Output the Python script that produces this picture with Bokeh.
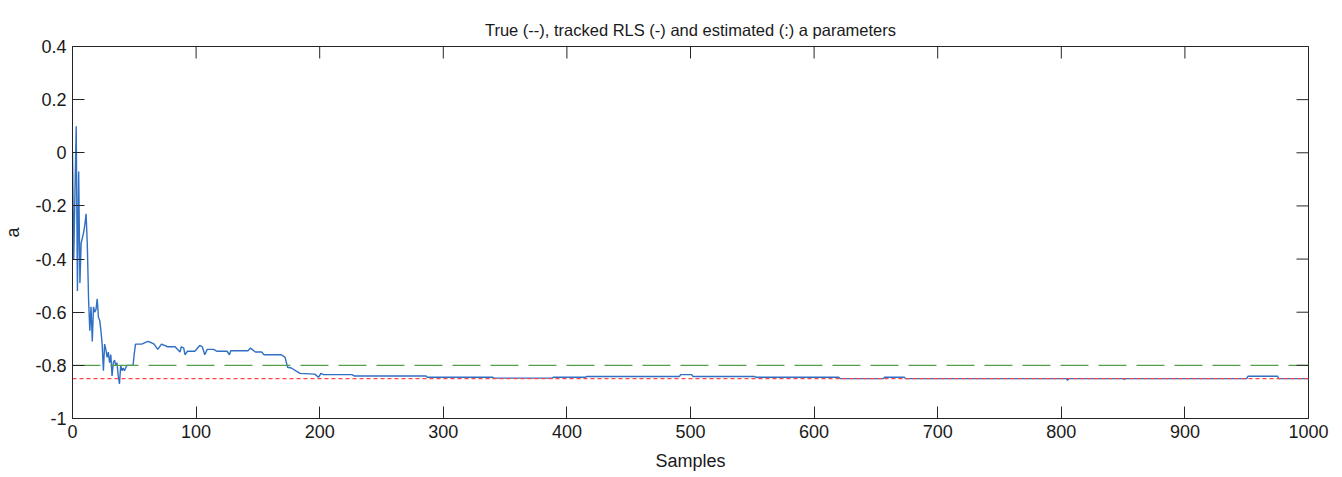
import math
from bokeh.plotting import figure
from bokeh.models import Range1d, FixedTicker, CustomJSTickFormatter
from bokeh.embed import file_html
from bokeh.resources import INLINE

# ---- data ----
samples = [0, 1, 2, 3, 4, 5, 6, 7, 8, 9, 10, 11, 12, 13, 14, 15, 16, 17, 18, 19,
           20, 21, 22, 23, 24, 25, 26, 27, 28, 29, 30, 31, 32, 33, 34, 35, 36, 37,
           38, 39, 40, 41, 42, 43, 44, 45, 46, 47, 48, 49, 50, 51, 52, 56, 61, 64,
           66, 69, 72, 77, 83, 87, 88, 90, 91, 93, 99, 103, 105, 107, 109, 114,
           117, 125, 127, 128, 142, 144, 148, 153, 155, 169, 172, 174, 177, 184,
           196, 199, 201, 203, 226, 228, 286, 287, 340, 341, 388, 389, 415, 416,
           491, 492, 501, 502, 552, 553, 620, 621, 656, 657, 673, 674, 804, 805,
           806, 850, 851, 852, 950, 951, 975, 976, 1000]
tracked_rls = [0.00, -0.40, -0.15, 0.10, -0.52, -0.07, -0.49, -0.34, -0.32, -0.30,
               -0.27, -0.23, -0.35, -0.55, -0.67, -0.58, -0.71, -0.58, -0.60, -0.59,
               -0.55, -0.62, -0.63, -0.67, -0.72, -0.82, -0.72, -0.74, -0.77, -0.75,
               -0.79, -0.76, -0.84, -0.79, -0.78, -0.80, -0.79, -0.84, -0.87, -0.80,
               -0.82, -0.81, -0.82, -0.81, -0.80, -0.80, -0.80, -0.80, -0.80, -0.80,
               -0.755, -0.72, -0.72, -0.72, -0.71, -0.715, -0.72, -0.74, -0.72, -0.73,
               -0.73, -0.75, -0.73, -0.735, -0.76, -0.747, -0.747, -0.725, -0.73,
               -0.76, -0.74, -0.74, -0.747, -0.747, -0.76, -0.745, -0.745, -0.735,
               -0.75, -0.75, -0.76, -0.76, -0.77, -0.807, -0.81, -0.83, -0.833,
               -0.845, -0.83, -0.835, -0.835, -0.84, -0.84, -0.845, -0.845, -0.848,
               -0.848, -0.845, -0.845, -0.842, -0.842, -0.835, -0.835, -0.842, -0.842,
               -0.845, -0.845, -0.85, -0.85, -0.845, -0.845, -0.85, -0.85, -0.856,
               -0.85, -0.85, -0.853, -0.85, -0.85, -0.841, -0.841, -0.85, -0.85]
true_x = [0, 1000]
true_a = [-0.8, -0.8]
est_x = [0, 1000]
est_a = [-0.85, -0.85]
x_ticks = [0, 100, 200, 300, 400, 500, 600, 700, 800, 900, 1000]
y_ticks = [-1.0, -0.8, -0.6, -0.4, -0.2, 0.0, 0.2, 0.4]

FONT = "Liberation Sans"
X_MIN, X_MAX = x_ticks[0], x_ticks[-1]
Y_MIN, Y_MAX = y_ticks[0], y_ticks[-1]

p = figure(width=1342, height=477, output_backend="svg", toolbar_location=None,
           x_range=Range1d(X_MIN, X_MAX), y_range=Range1d(Y_MIN, Y_MAX),
           title="True (--), tracked RLS (-) and estimated (:) a parameters",
           min_border_left=71, min_border_right=34, min_border_top=46,
           min_border_bottom=59)

p.background_fill_color = "white"
p.border_fill_color = "white"
p.outline_line_color = "#262626"
p.outline_line_width = 1
p.grid.visible = False

p.title.align = "center"
p.title.text_font = FONT
p.title.text_font_size = "16.5px"
p.title.text_font_style = "normal"
p.title.text_color = "#1a1a1a"
p.title.standoff = 16

fmt = CustomJSTickFormatter(code="return (Math.round(tick*10)/10).toString();")

for ax in p.xaxis:
    ax.ticker = FixedTicker(ticks=x_ticks)
    ax.axis_label = "Samples"
for ax in p.yaxis:
    ax.ticker = FixedTicker(ticks=y_ticks)
    ax.formatter = fmt
    ax.axis_label = "a"

for ax in list(p.xaxis) + list(p.yaxis):
    ax.major_tick_in = 12
    ax.major_tick_out = 0
    ax.minor_tick_line_color = None
    ax.axis_line_color = "#262626"
    ax.major_tick_line_color = "#262626"
    ax.major_label_text_font = FONT
    ax.major_label_text_font_size = "18px"
    ax.major_label_text_color = "#1a1a1a"
    ax.axis_label_text_font = FONT
    ax.axis_label_text_font_size = "18px"
    ax.axis_label_text_font_style = "normal"
    ax.axis_label_text_color = "#1a1a1a"
    ax.major_label_standoff = 6

p.xaxis.axis_label_standoff = 10
p.yaxis.axis_label_standoff = 9

# data lines
p.line(samples, tracked_rls, line_color="#2f6fc4", line_width=1.4)
p.line(true_x, true_a, line_color="#55a04a", line_width=1.4, line_dash="28 10")
p.line(est_x, est_a, line_color="#ff4545", line_width=1.4, line_dash="4 3")

# mirrored tick marks on the top and right frame edges (box on);
# dash markers centred on the edge, clipped by the frame so only the inner half shows
p.scatter(x_ticks, [Y_MAX] * len(x_ticks), marker="dash", size=24,
          angle=math.pi / 2, line_color="#262626", line_width=1)
p.scatter([X_MAX] * len(y_ticks), y_ticks, marker="dash", size=24,
          line_color="#262626", line_width=1)

open("out.html", "w").write(file_html(p, INLINE))
